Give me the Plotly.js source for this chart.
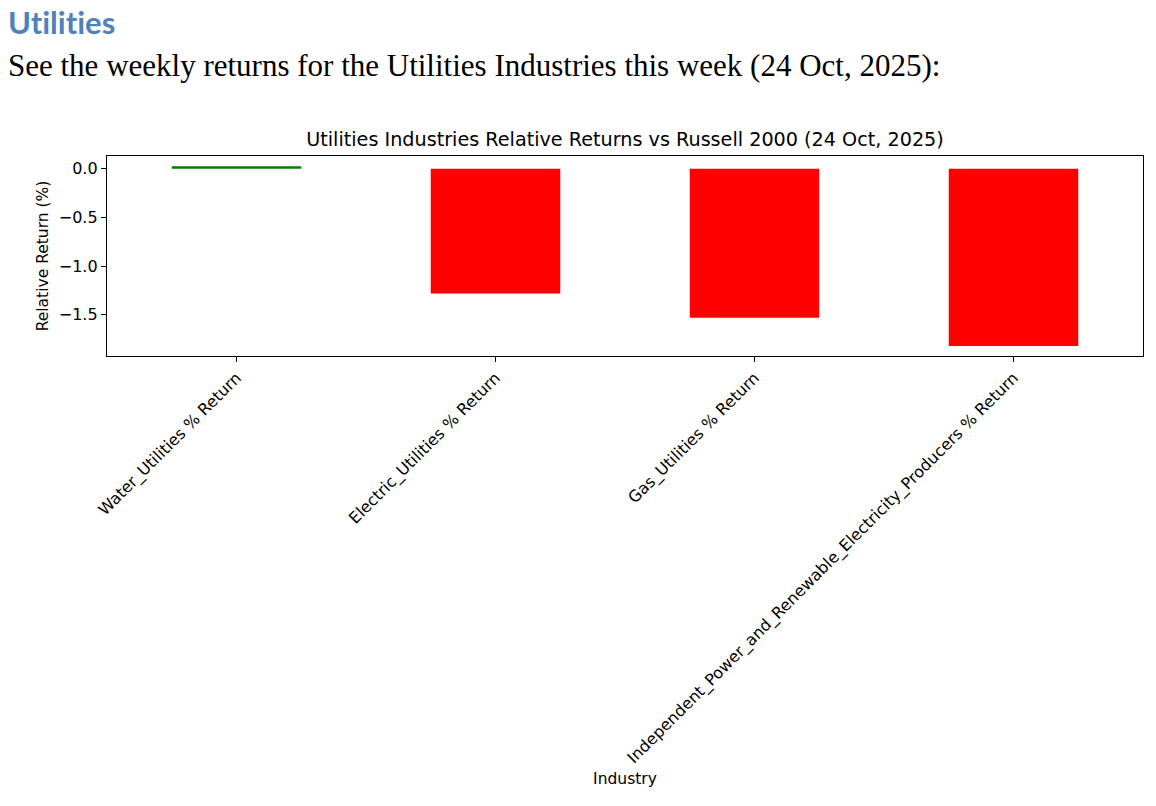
<!DOCTYPE html>
<html>
<head>
<meta charset="utf-8">
<script src="https://cdn.plot.ly/plotly-3.0.1.min.js"></script>
<style>
  html, body { margin: 0; padding: 0; background: #fff; width: 1156px; height: 806px; overflow: hidden; }
  #h1 { position: absolute; left: 8px; top: 2px; font-family: Lato, "Open Sans", sans-serif; font-weight: bold; font-size: 31px; color: #4F81BD; line-height: 40px; white-space: nowrap; font-variant-ligatures: none; font-feature-settings: "liga" 0; }
  #p1 { position: absolute; left: 8px; top: 46px; font-family: "Liberation Serif", "DejaVu Serif", serif; font-size: 31px; color: #000; line-height: 40px; white-space: nowrap; }
  #chart { position: absolute; left: 0; top: 0; width: 1156px; height: 806px; }
</style>
</head>
<body>
<div id="chart"></div>
<div id="h1">Utilities</div>
<div id="p1">See the weekly returns for the Utilities Industries this week (24 Oct, 2025):</div>
<script>
const categories = [
  "Water_Utilities % Return",
  "Electric_Utilities % Return",
  "Gas_Utilities % Return",
  "Independent_Power_and_Renewable_Electricity_Producers % Return"
];
const relativeReturns = [0.025, -1.28, -1.53, -1.82];
const yTickValues = [0, -0.5, -1.0, -1.5];

const barColors = relativeReturns.map(v => v >= 0 ? "#008000" : "#ff0000");

const axisFont = { family: "DejaVu Sans, sans-serif", size: 16, color: "#000" };

const trace = {
  type: "bar",
  x: categories,
  y: relativeReturns,
  marker: { color: barColors, line: { width: 0 } },
  hoverinfo: "x+y"
};

const layout = {
  width: 1156,
  height: 806,
  margin: { l: 107, r: 13, t: 156, b: 450, pad: 0 },
  paper_bgcolor: "#fff",
  plot_bgcolor: "#fff",
  showlegend: false,
  bargap: 0.5,
  font: axisFont,
  title: {
    text: "Utilities Industries Relative Returns vs Russell 2000 (24 Oct, 2025)",
    font: { family: "DejaVu Sans, sans-serif", size: 19.2, color: "#000" },
    xref: "paper", x: 0.5, xanchor: "center",
    yref: "container", y: 1 - 139 / 806, yanchor: "middle"
  },
  xaxis: {
    type: "category",
    range: [-0.5, 3.5],
    tickangle: -45,
    ticks: "outside", ticklen: 5, tickwidth: 1, tickcolor: "#000",
    showline: true, mirror: true, linecolor: "#000", linewidth: 1.2,
    showgrid: false, zeroline: false,
    tickfont: axisFont,
    automargin: false,
    title: { text: "Industry", font: { family: "DejaVu Sans, sans-serif", size: 15.5, color: "#000" }, standoff: 6 }
  },
  yaxis: {
    range: [-1.922, 0.13],
    tickmode: "array",
    tickvals: yTickValues,
    tickformat: ".1f",
    ticks: "outside", ticklen: 5, tickwidth: 1, tickcolor: "#000",
    showline: true, mirror: true, linecolor: "#000", linewidth: 1.2,
    showgrid: false, zeroline: false,
    tickfont: axisFont,
    automargin: false,
    title: { text: "Relative Return (%)", font: { family: "DejaVu Sans, sans-serif", size: 15.5, color: "#000" }, standoff: 6 }
  }
};

Plotly.newPlot("chart", [trace], layout, { displayModeBar: false, staticPlot: true });
</script>
</body>
</html>
